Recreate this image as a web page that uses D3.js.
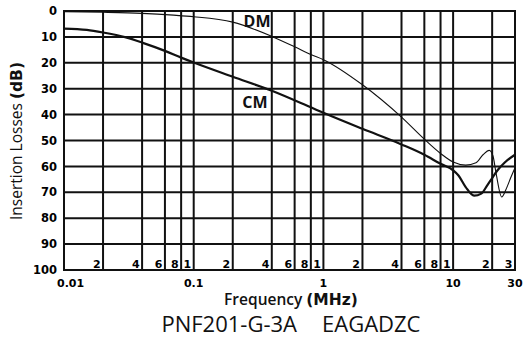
<!DOCTYPE html>
<html>
<head>
<meta charset="utf-8">
<script src="https://cdn.jsdelivr.net/npm/d3@7"></script>
<style>
  html, body { margin: 0; padding: 0; background: #fff; }
  svg { display: block; }
</style>
</head>
<body>
<svg id="chart" width="528" height="342"></svg>
<script>
// Frequency (MHz) / insertion loss (dB) for the common-mode and differential-mode responses
const cmFreq = [0.01, 0.015, 0.02, 0.03, 0.04, 0.06, 0.08, 0.1, 0.2, 0.4, 0.8, 1, 2, 4, 6, 8, 10, 11, 12.5, 14.5, 16.5, 18.5, 20, 22, 25, 30];
const cmLoss = [6.8, 7.3, 8.3, 10.2, 12.2, 15.4, 18.0, 19.9, 25.4, 30.8, 37.2, 39.3, 45.5, 51.5, 55.5, 59.0, 61.5, 63.5, 68, 71.3, 70.5, 67, 64.5, 61.5, 58.5, 55.5];

const dmFreq = [0.01, 0.02, 0.04, 0.07, 0.1, 0.2, 0.4, 0.6, 0.8, 1, 2, 4, 6, 8, 10, 12.5, 15, 17, 19, 20.3, 21.5, 23.7, 25.5, 28, 30];
const dmLoss = [0.3, 0.5, 0.9, 1.6, 2.2, 4.3, 9.8, 13.8, 16.8, 18.8, 28.5, 41.0, 49.5, 55.0, 58.3, 59.5, 58.6, 55.5, 53.8, 56, 63, 71.8, 69, 64, 60.5];

// Axis ticks and labels
const yTicks = [0, 10, 20, 30, 40, 50, 60, 70, 80, 90, 100];
const xGrid = [0.02, 0.04, 0.06, 0.08, 0.1, 0.2, 0.4, 0.6, 0.8, 1, 2, 4, 6, 8, 10, 20];
const xMinorLabelAt = [0.02, 0.04, 0.06, 0.08, 0.1, 0.2, 0.4, 0.6, 0.8, 1, 2, 4, 6, 8, 10, 20, 30];
const xMinorLabels = ["2", "4", "6", "8", "1", "2", "4", "6", "8", "1", "2", "4", "6", "8", "1", "2", "3"];
const xMajorAt = [0.01, 0.1, 1, 10, 30];
const xMajorLabels = ["0.01", "0.1", "1", "10", "30"];

const svg = d3.select("#chart");
const x = d3.scaleLog().domain([0.01, 30]).range([64, 515]);
const y = d3.scaleLinear().domain([0, 100]).range([11, 270]);

const numFont = "'DejaVu Sans', sans-serif";
const textFont = "'Open Sans', 'Noto Sans', sans-serif";

// grid
const grid = svg.append("g").attr("stroke", "#111").attr("stroke-width", 2);
grid.selectAll("line.h").data(yTicks.slice(1, -1)).join("line")
  .attr("x1", x.range()[0]).attr("x2", x.range()[1])
  .attr("y1", d => y(d)).attr("y2", d => y(d));
grid.selectAll("line.v").data(xGrid).join("line")
  .attr("x1", d => x(d)).attr("x2", d => x(d))
  .attr("y1", y.range()[0]).attr("y2", y.range()[1]);
svg.append("rect")
  .attr("x", x.range()[0]).attr("y", y.range()[0])
  .attr("width", x.range()[1] - x.range()[0]).attr("height", y.range()[1] - y.range()[0])
  .attr("fill", "none").attr("stroke", "#111").attr("stroke-width", 2);

// y tick labels
svg.append("g").selectAll("text").data(yTicks).join("text")
  .attr("x", 57).attr("y", d => y(d)).attr("dy", "0.36em")
  .attr("text-anchor", "end")
  .attr("font-family", numFont).attr("font-weight", "bold").attr("font-size", 11.5)
  .text(d => d);

// x minor labels inside the plot, next to each grid line
svg.append("g").selectAll("text").data(xMinorLabelAt).join("text")
  .attr("x", d => x(d) - 2.5).attr("y", 268)
  .attr("text-anchor", "end")
  .attr("font-family", numFont).attr("font-weight", "bold").attr("font-size", 11)
  .text((d, i) => xMinorLabels[i]);

// x decade labels under the plot
svg.append("g").selectAll("text").data(xMajorAt).join("text")
  .attr("x", (d, i) => i === 0 ? x(d) - 7 : x(d))
  .attr("y", 287)
  .attr("text-anchor", (d, i) => i === 0 ? "start" : "middle")
  .attr("font-family", numFont).attr("font-weight", "bold").attr("font-size", 11)
  .text((d, i) => xMajorLabels[i]);

// curves
const line = d3.line().curve(d3.curveMonotoneX);
const cmPts = cmFreq.map((f, i) => [x(f), y(cmLoss[i])]);
const dmPts = dmFreq.map((f, i) => [x(f), y(dmLoss[i])]);
svg.append("path").attr("d", line(dmPts))
  .attr("fill", "none").attr("stroke", "#111").attr("stroke-width", 1.1);
svg.append("path").attr("d", line(cmPts))
  .attr("fill", "none").attr("stroke", "#111").attr("stroke-width", 2.2);

// series labels
svg.append("text").attr("x", 257).attr("y", 26.5).attr("text-anchor", "middle")
  .attr("font-family", textFont).attr("font-weight", "bold").attr("font-size", 16)
  .attr("fill", "#111").text("DM");
svg.append("text").attr("x", 255).attr("y", 108).attr("text-anchor", "middle")
  .attr("font-family", textFont).attr("font-weight", "bold").attr("font-size", 16)
  .attr("fill", "#111").text("CM");

// axis titles
const xt = svg.append("text").attr("x", 291).attr("y", 305).attr("text-anchor", "middle")
  .attr("font-size", 15.5).attr("fill", "#111");
xt.append("tspan").attr("font-family", textFont).attr("font-weight", 600).text("Frequency ");
xt.append("tspan").attr("font-family", numFont).attr("font-weight", "bold").text("(MHz)");

const yt = svg.append("text").attr("transform", "translate(22,141) rotate(-90)")
  .attr("text-anchor", "middle").attr("font-size", 15.5).attr("fill", "#111");
yt.append("tspan").attr("font-family", textFont).attr("font-weight", 500).text("Insertion Losses ");
yt.append("tspan").attr("font-family", numFont).attr("font-weight", "bold").text("(dB)");

// part numbers
svg.append("text").attr("x", 297).attr("y", 332).attr("text-anchor", "end")
  .attr("font-family", textFont).attr("font-size", 22).attr("fill", "#111").text("PNF201-G-3A");
svg.append("text").attr("x", 322).attr("y", 332)
  .attr("font-family", textFont).attr("font-size", 22).attr("fill", "#111").text("EAGADZC");
</script>
</body>
</html>
